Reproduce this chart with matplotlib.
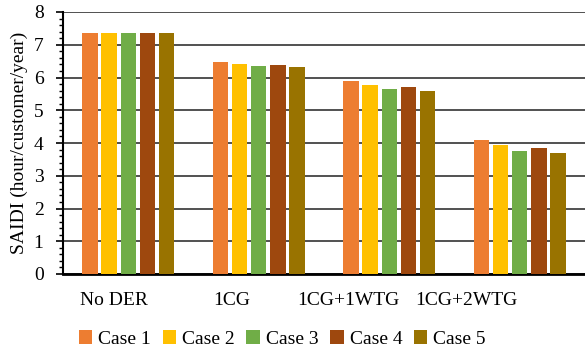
import numpy as np
import matplotlib
matplotlib.use("Agg")
import matplotlib.pyplot as plt
from matplotlib.ticker import MultipleLocator

plt.rcParams['font.family'] = ['Liberation Serif', 'DejaVu Serif']

categories = ["No DER", "1CG", "1CG+1WTG", "1CG+2WTG"]
series_names = ["Case 1", "Case 2", "Case 3", "Case 4", "Case 5"]
case1 = [7.35, 6.48, 5.88, 4.10]
case2 = [7.35, 6.41, 5.76, 3.93]
case3 = [7.35, 6.34, 5.65, 3.77]
case4 = [7.35, 6.37, 5.70, 3.86]
case5 = [7.35, 6.31, 5.58, 3.69]
series = [case1, case2, case3, case4, case5]
colors = ["#ED7D31", "#FFC000", "#70AD47", "#9E480E", "#997300"]

fig = plt.figure(figsize=(5.85, 3.49), dpi=100)
ax = fig.add_axes([63 / 585, 1 - 274 / 349, (585 - 63) / 585, (274 - 12) / 349])

x = np.arange(len(categories))
slot = 0.147
width = 0.118
for i, (vals, c, name) in enumerate(zip(series, colors, series_names)):
    ax.bar(x + (i - 2) * slot, vals, width=width, color=c, label=name, zorder=3)

ax.set_xlim(-0.5, len(categories) - 0.5)
ax.set_ylim(0, 8)
ax.yaxis.set_major_locator(MultipleLocator(1))
ax.yaxis.set_minor_locator(MultipleLocator(0.2))
ax.grid(axis='y', which='major', color='#333333', linewidth=1.2, zorder=0)

for s in ['top', 'right']:
    ax.spines[s].set_visible(False)
ax.spines['left'].set_linewidth(1.5)
ax.spines['bottom'].set_linewidth(2.0)

ax.tick_params(axis='y', which='major', direction='out', length=5, width=1.2, labelsize=14, pad=9)
ax.tick_params(axis='y', which='minor', direction='out', length=3, width=1)
ax.tick_params(axis='x', length=0, labelsize=14, pad=13)
# category labels sit slightly left of their bar groups, with a tighter pitch
ax.set_xticks(x * 0.9 - 0.11)
ax.set_xticklabels(categories)
ax.set_ylabel("SAIDI (hour/customer/year)", fontsize=14, labelpad=4)

ax.legend(loc='center', bbox_to_anchor=(0.42, -0.248), ncol=5, frameon=False,
          fontsize=14, handlelength=0.7, handleheight=0.7, handletextpad=0.3,
          columnspacing=0.6, borderaxespad=0)

fig.savefig("out.png", dpi=100)
